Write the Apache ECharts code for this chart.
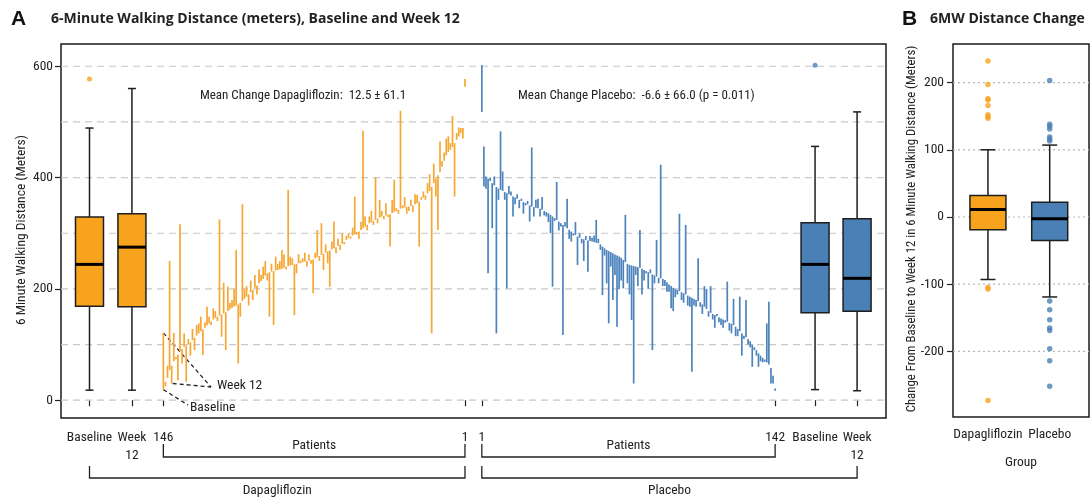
<!DOCTYPE html>
<html><head><meta charset="utf-8">
<script src="https://cdn.jsdelivr.net/npm/echarts@6/dist/echarts.min.js"></script>
<style>html,body{margin:0;padding:0;background:#fff}#c{width:1090px;height:498px}</style>
</head><body><div id="c"></div>
<script>
// ---------- DATA ----------
// Panel A: per-patient 6MWD, ordered as plotted (Dapagliflozin patient 146 -> 1, Placebo patient 1 -> 142)
const dapaBase = [19,25,40,54,62,70,76,82,88,92,
96,98,100,104,108,112,116,120,124,127,
130,134,138,141,145,148,150,152,154,156,
158,160,163,166,168,170,172,175,178,182,
186,190,194,198,202,206,210,214,218,224,
228,230,231,232,233,234,235,236,238,240,
241,242,243,244,245,246,247,248,249,250,
251,252,253,255,257,259,261,263,265,267,
269,271,273,275,277,279,281,284,288,292,
294,296,298,300,303,306,309,312,315,318,
320,322,324,326,328,330,331,332,333,334,
336,338,340,342,344,345,346,347,348,349,
350,352,354,356,360,364,368,372,376,383,
390,398,404,410,420,430,440,446,450,455,
462,468,474,480,489,577];
const dapaWeek12 = [121,33,62,250,30,121,75,36,316,66,
120,33,110,80,128,90,135,138,150,81,
140,168,150,135,165,160,142,325,114,211,
90,204,175,180,200,270,66,150,352,200,
205,170,215,180,225,190,235,225,240,250,
215,150,245,135,258,245,250,270,262,235,
378,258,255,153,228,262,250,255,265,240,
262,245,192,265,306,250,318,234,280,246,
204,285,321,264,290,270,300,280,295,300,
290,310,366,300,290,320,484,330,305,330,
340,315,400,318,360,340,325,354,330,276,
360,396,345,335,520,350,365,335,340,360,
338,370,369,276,365,375,360,390,406,120,
425,366,306,465,430,445,470,474,462,511,
366,480,490,489,470,563];
const placeboBase = [602,456,402,398,394,390,386,383,380,378,
376,374,372,370,368,366,364,362,360,358,
356,354,352,350,348,347,346,345,344,342,
340,338,336,333,330,327,324,321,318,315,
312,309,306,303,300,297,294,292,290,289,
288,287,286,285,284,283,282,280,276,273,
270,268,266,264,262,260,258,256,252,248,
245,243,242,241,240,239,238,236,234,232,
230,228,226,224,222,220,219,218,216,212,
208,205,202,200,198,196,194,192,190,188,
186,184,182,180,178,176,172,168,164,160,
157,155,153,151,149,147,145,143,141,139,
137,135,132,128,124,120,116,113,110,106,
100,95,90,84,80,76,72,68,64,58,
44,20];
const placeboWeek12 = [518,384,380,228,400,309,402,120,360,483,
411,360,201,385,375,330,352,370,345,362,
335,350,358,321,454,330,360,362,330,365,
332,330,320,300,204,322,392,305,312,117,
320,362,290,285,296,320,243,300,282,250,
295,231,295,292,296,324,290,270,189,260,
210,138,240,180,225,132,200,215,201,333,
210,190,144,30,225,205,306,190,215,228,
200,235,90,210,288,210,423,205,205,195,
195,165,160,185,190,335,180,175,315,170,
168,51,170,168,255,168,155,205,200,150,
205,145,130,155,140,135,130,140,213,125,
120,182,115,115,186,80,110,180,100,95,
60,90,80,60,70,68,70,138,177,30,
30,18];
// Box statistics: [lower whisker, Q1, median, Q3, upper whisker]
const dapaBaselineBox = [18,169,244,329,489];
const dapaWeek12Box = [18,168,275,335,560];
const placeboBaselineBox = [19,157,244,319,456];
const placeboWeek12Box = [17,160,219,326,518];
const dapaBaselineOutliers = [577];
const placeboBaselineOutliers = [602];
// Panel B: change from baseline to week 12
const changeDapaBox = [-93,-19,11,32,100];
const changePlaceboBox = [-119,-35,-2.5,22,107];
const changeDapaOutliers = [232,197,176,174,166,152,149,147,-105,-107,-273];
const changePlaceboOutliers = [203,138,135,131,119,116,113,-125,-138,-153,-165,-169,-196,-214,-252];
// Tick labels
const yTicksA = [0,200,400,600];
const yGridA = [0,100,200,300,400,500,600];
const yTicksB = [-200,-100,0,100,200];
const groupsB = ['Dapagliflozin','Placebo'];
const meanDapaText = 'Mean Change Dapagliflozin:  12.5 \u00b1 61.1';
const meanPlaceboText = 'Mean Change Placebo:  -6.6 \u00b1 66.0 (p = 0.011)';

// ---------- LAYOUT ----------
const FONT = '"Roboto Condensed","Liberation Sans Narrow",sans-serif';
const TFONT = '"Open Sans",sans-serif';
const ORANGE = '#F8A31E', BLUE = '#4A80B6';
const ORANGE_L = '#F6A733', BLUE_L = '#4C83BC';
const POS = {dBox:13.7, dW12Box:34.1, dStart:49.2, pStart:202.3, pBox:362.5, pW12Box:382.7, xMax:396.6};
const xTickPos = [POS.dBox, POS.dW12Box, POS.dStart, POS.dStart+dapaBase.length-1, POS.pStart, POS.pStart+placeboBase.length-1, POS.pBox, POS.pW12Box];
const xTickLab = ['Baseline','Week\n12', String(dapaBase.length), '1', '1', String(placeboBase.length), 'Baseline','Week\n12'];
const posB = [2.57, 7.11];

function labFor(v){ let bi=0,bd=1e9; xTickPos.forEach((p,i)=>{const d=Math.abs(p-v); if(d<bd){bd=d;bi=i;}}); return xTickLab[bi]; }

const chart = echarts.init(document.getElementById('c'), null, {renderer:'canvas'});

function gridRender(dash, color){
  return function(params, api){
    const cs = params.coordSys;
    const y = api.coord([api.value(0), api.value(1)])[1];
    return {type:'line', silent:true, shape:{x1:cs.x, y1:y, x2:cs.x+cs.width, y2:y},
      style:{stroke:color, lineWidth:1.2, lineDash:dash}};
  };
}
function patientRender(color){
  return function(params, api){
    const x = api.value(0);
    const p1 = api.coord([x, api.value(1)]), p2 = api.coord([x, api.value(2)]);
    let y1 = p1[1], y2 = p2[1];
    if (Math.abs(y1-y2) < 2) { const m=(y1+y2)/2; y1=m-1.2; y2=m+1.2; }
    return {type:'line', shape:{x1:p1[0], y1:y1, x2:p2[0], y2:y2}, style:{stroke:color, lineWidth:1.7}};
  };
}
function boxRender(fill, halfW, capW){
  return function(params, api){
    const x = api.value(0);
    const lo = api.coord([x, api.value(1)]), q1 = api.coord([x, api.value(2)]),
          md = api.coord([x, api.value(3)]), q3 = api.coord([x, api.value(4)]), hi = api.coord([x, api.value(5)]);
    const cx = lo[0];
    const ls = {stroke:'#1e1e1e', lineWidth:1.5};
    return {type:'group', children:[
      {type:'line', shape:{x1:cx,y1:hi[1],x2:cx,y2:q3[1]}, style:ls},
      {type:'line', shape:{x1:cx,y1:q1[1],x2:cx,y2:lo[1]}, style:ls},
      {type:'line', shape:{x1:cx-capW,y1:hi[1],x2:cx+capW,y2:hi[1]}, style:ls},
      {type:'line', shape:{x1:cx-capW,y1:lo[1],x2:cx+capW,y2:lo[1]}, style:ls},
      {type:'rect', shape:{x:cx-halfW, y:q3[1], width:2*halfW, height:q1[1]-q3[1]}, style:{fill:fill, stroke:'#1e1e1e', lineWidth:1.5}},
      {type:'line', shape:{x1:cx-halfW,y1:md[1],x2:cx+halfW,y2:md[1]}, style:{stroke:'#000', lineWidth:3}}
    ]};
  };
}

const tickLabel = {fontFamily:FONT, fontSize:13.5, color:'#222'};

const option = {
  animation:false,
  backgroundColor:'#fff',
  grid:[
    {left:61, top:44, width:825, height:374, show:true, borderColor:'#1a1a1a', borderWidth:1.5, backgroundColor:'transparent'},
    {left:953, top:44, width:136, height:373, show:true, borderColor:'#1a1a1a', borderWidth:1.5, backgroundColor:'transparent'}
  ],
  xAxis:[
    {type:'value', gridIndex:0, min:0, max:POS.xMax, splitLine:{show:false}, axisLine:{show:false},
     axisTick:{show:true, length:6, customValues:xTickPos, lineStyle:{color:'#222', width:1.2}},
     axisLabel:Object.assign({show:true, margin:11, lineHeight:18, customValues:xTickPos, formatter:(v)=>labFor(v)}, tickLabel)},
    {type:'value', gridIndex:1, min:0, max:10, splitLine:{show:false}, axisLine:{show:false},
     axisTick:{show:true, length:6, customValues:posB, lineStyle:{color:'#222', width:1.2}},
     axisLabel:Object.assign({show:true, margin:11, customValues:posB, formatter:(v)=> v<5?groupsB[0]:groupsB[1]}, tickLabel)}
  ],
  yAxis:[
    {type:'value', gridIndex:0, min:-32, max:640, splitLine:{show:false}, axisLine:{show:false},
     axisTick:{show:true, length:6, customValues:yTicksA, lineStyle:{color:'#222', width:1.2}},
     axisLabel:Object.assign({show:true, margin:8, customValues:yTicksA}, tickLabel)},
    {type:'value', gridIndex:1, min:-297.6, max:257.4, splitLine:{show:false}, axisLine:{show:false},
     axisTick:{show:true, length:6, customValues:yTicksB, lineStyle:{color:'#222', width:1.2}},
     axisLabel:Object.assign({show:true, margin:9, customValues:yTicksB}, tickLabel)}
  ],
  series:[
    {type:'custom', name:'gridA', xAxisIndex:0, yAxisIndex:0, silent:true, z:1,
     data:yGridA.map(v=>[0,v]), encode:{x:0,y:1}, renderItem:gridRender([7,5],'#c8c8c8')},
    {type:'custom', name:'gridB', xAxisIndex:1, yAxisIndex:1, silent:true, z:1,
     data:yTicksB.map(v=>[0,v]), encode:{x:0,y:1}, renderItem:gridRender([2,3],'#b8b8b8')},
    {type:'custom', name:'Dapagliflozin patients', xAxisIndex:0, yAxisIndex:0, z:2,
     data:dapaBase.map((b,k)=>[POS.dStart+k, b, dapaWeek12[k]]), encode:{x:0,y:[1,2]}, renderItem:patientRender(ORANGE_L)},
    {type:'custom', name:'Placebo patients', xAxisIndex:0, yAxisIndex:0, z:2,
     data:placeboBase.map((b,j)=>[POS.pStart+j, b, placeboWeek12[j]]), encode:{x:0,y:[1,2]}, renderItem:patientRender(BLUE_L)},
    {type:'custom', name:'boxesA', xAxisIndex:0, yAxisIndex:0, z:3,
     data:[[POS.dBox].concat(dapaBaselineBox),[POS.dW12Box].concat(dapaWeek12Box)],
     encode:{x:0,y:[1,2,3,4,5]}, renderItem:boxRender(ORANGE,14,4)},
    {type:'custom', name:'boxesAp', xAxisIndex:0, yAxisIndex:0, z:3,
     data:[[POS.pBox].concat(placeboBaselineBox),[POS.pW12Box].concat(placeboWeek12Box)],
     encode:{x:0,y:[1,2,3,4,5]}, renderItem:boxRender(BLUE,14,4)},
    {type:'scatter', xAxisIndex:0, yAxisIndex:0, z:4, symbolSize:5, itemStyle:{color:ORANGE},
     data:dapaBaselineOutliers.map(v=>[POS.dBox,v])},
    {type:'scatter', xAxisIndex:0, yAxisIndex:0, z:4, symbolSize:5, itemStyle:{color:BLUE},
     data:placeboBaselineOutliers.map(v=>[POS.pBox,v])},
    {type:'custom', name:'boxB1', xAxisIndex:1, yAxisIndex:1, z:3,
     data:[[posB[0]].concat(changeDapaBox)], encode:{x:0,y:[1,2,3,4,5]}, renderItem:boxRender(ORANGE,18,7.5)},
    {type:'custom', name:'boxB2', xAxisIndex:1, yAxisIndex:1, z:3,
     data:[[posB[1]].concat(changePlaceboBox)], encode:{x:0,y:[1,2,3,4,5]}, renderItem:boxRender(BLUE,18,7.5)},
    {type:'scatter', xAxisIndex:1, yAxisIndex:1, z:4, symbolSize:5.5, itemStyle:{color:ORANGE},
     data:changeDapaOutliers.map(v=>[posB[0],v])},
    {type:'scatter', xAxisIndex:1, yAxisIndex:1, z:4, symbolSize:5.5, itemStyle:{color:BLUE},
     data:changePlaceboOutliers.map(v=>[posB[1],v])}
  ]
};
chart.setOption(option);

// ---------- annotations / brackets ----------
const px = (v)=>chart.convertToPixel({xAxisIndex:0, yAxisIndex:0}, v);
const xa = (v)=>px([v,0])[0];
const T = (x,y,text,extra)=>Object.assign({type:'text', x:x, y:y, silent:true,
  style:Object.assign({text:text, fontFamily:FONT, fontSize:13.5, fill:'#222', align:'center', verticalAlign:'middle'}, (extra&&extra.style)||{})},
  extra?{rotation:extra.rotation||0}:{});
const L = (pts, dash)=>({type:'polyline', silent:true, shape:{points:pts}, style:{stroke:'#222', lineWidth:1.3, fill:null, lineDash:dash||null}});

const dL = xa(POS.dStart), dR = xa(POS.dStart+dapaBase.length-1);
const pL = xa(POS.pStart), pR = xa(POS.pStart+placeboBase.length-1);
const bL = xa(POS.dBox), wR = xa(POS.pW12Box);
const firstTop = px([POS.dStart, dapaWeek12[0]]);
const w12Low = px([POS.dStart+4, dapaWeek12[4]]);
const baseDot = px([POS.dStart, dapaBase[0]]);

const graphics = [
  {type:'text', x:11, y:19, silent:true, style:{text:'A', fontFamily:'"Liberation Sans",Arial,sans-serif', fontWeight:'bold', fontSize:21, fill:'#111', verticalAlign:'middle'}},
  {type:'text', x:51, y:19, silent:true, style:{text:'6-Minute Walking Distance (meters), Baseline and Week 12', fontFamily:TFONT, fontWeight:'bold', fontSize:14, fill:'#222', verticalAlign:'middle'}},
  {type:'text', x:902, y:19, silent:true, style:{text:'B', fontFamily:'"Liberation Sans",Arial,sans-serif', fontWeight:'bold', fontSize:21, fill:'#111', verticalAlign:'middle'}},
  {type:'text', x:930, y:19, silent:true, style:{text:'6MW Distance Change', fontFamily:TFONT, fontWeight:'bold', fontSize:14, fill:'#222', verticalAlign:'middle'}},
  T(303, 96, meanDapaText, {style:{fontSize:13}}),
  T(518, 96, meanPlaceboText, {style:{align:'left', fontSize:13}}),
  T(22, 230, '6 Minute Walking Distance (Meters)', {rotation:Math.PI/2}),
  T(912, 229, 'Change From Baseline to Week 12 in 6 Minute Walking Distance (Meters)', {rotation:Math.PI/2, style:{fontSize:12.8}}),
  T(1021, 463, 'Group'),
  T(217, 386, 'Week 12', {style:{align:'left'}}),
  T(190, 408, 'Baseline', {style:{align:'left'}}),
  L([[firstTop[0], firstTop[1]], [211, 387]], [4,3]),
  L([[w12Low[0]+1, w12Low[1]], [211, 387]], [4,3]),
  L([[baseDot[0], baseDot[1]], [188, 405]], [4,3]),
  // patients brackets
  L([[dL,444],[dL,457],[dR,457],[dR,444]]),
  L([[pL,444],[pL,457],[pR,457],[pR,444]]),
  T((dL+dR)/2, 446, 'Patients'),
  T((pL+pR)/2, 446, 'Patients'),
  // group brackets
  L([[bL,466],[bL,478],[dR,478],[dR,466]]),
  L([[pL,466],[pL,478],[wR,478],[wR,466]]),
  T((bL+dR)/2, 491, 'Dapagliflozin'),
  T((pL+wR)/2, 491, 'Placebo')
];
chart.setOption({graphic:graphics});
</script>
</body></html>
